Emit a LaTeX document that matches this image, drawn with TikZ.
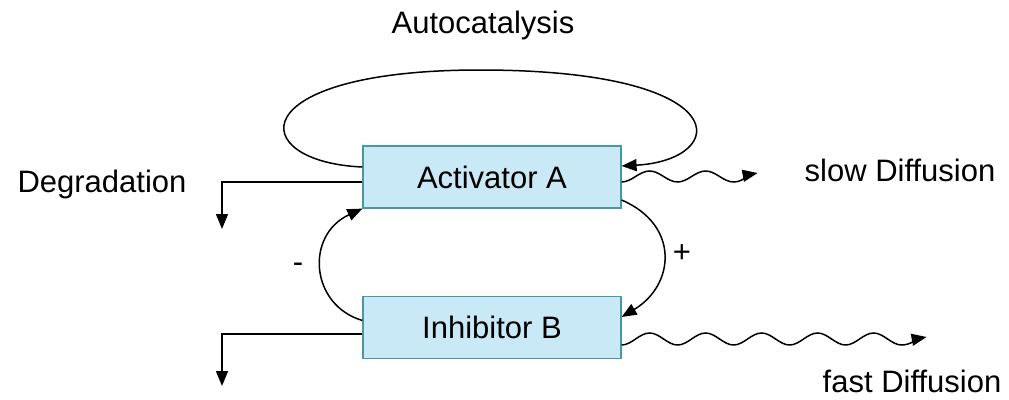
\documentclass[tikz,border=0pt]{standalone}
\usepackage{fontspec}
\setmainfont{Liberation Sans}
\usetikzlibrary{arrows.meta}
\definecolor{boxfill}{RGB}{202,233,247}
\definecolor{boxline}{RGB}{72,152,164}
\tikzset{
  species/.style={draw=boxline, fill=boxfill, line width=1.2pt, minimum width=258pt, minimum height=62pt, inner sep=0pt, font=\fontsize{31}{36}\selectfont},
  lbl/.style={font=\fontsize{31}{36}\selectfont, inner sep=0pt},
  conn/.style={line width=1.5pt, -{Triangle[length=15pt,width=12pt]}},
}
\begin{document}
\begin{tikzpicture}[x=1pt,y=-1pt]
\useasboundingbox (0,0) rectangle (1009,399);

\node[species] (A) at (492,177) {Activator A};
\node[species] (B) at (492,327.5) {Inhibitor B};

\node[lbl] (auto) at (483,25) {Autocatalysis};
\node[lbl] (deg) at (102,184) {Degradation};
\node[lbl] (slow) at (900,170) {slow Diffusion};
\node[lbl] (fast) at (912,381) {fast Diffusion};
\node[lbl] (minus) at (298,268) {-};
\node[lbl] (plus) at (682,254) {+};

\coordinate (dA) at (222,229);
\coordinate (dB) at (222,386);

% autocatalysis loop
\draw[conn] ([yshift=10pt]A.west) .. controls (245,162) and (240,70) .. (480,70)
  .. controls (740,70) and (730,160) .. ([yshift=11pt]A.east);

% degradation
\draw[conn] ([yshift=-5pt]A.west) -| (dA);
\draw[conn] ([yshift=-6.5pt]B.west) -| (dB);

% inhibition and activation
\draw[conn] ([yshift=7pt]B.west) .. controls (310,305) and (305,235) .. (A.south west);
\draw[conn] ([yshift=-23pt]A.east) .. controls (680,225) and (675,285) .. ([yshift=10.5pt]B.east);

% slow diffusion: two waves of 56pt
\draw[conn] ([yshift=-5pt]A.east)
  .. controls +(10.2,0) and +(-10.2,0) .. ++(28,-11)
  .. controls +(10.2,0) and +(-10.2,0) .. ++(28,11)
  .. controls +(10.2,0) and +(-10.2,0) .. ++(28,-11)
  .. controls +(10.2,0) and +(-10.2,0) .. ++(28,11)
  .. controls +(9,0) and +(-8,1.5) .. ++(24,-9);

% fast diffusion: five waves of 56pt
\draw[conn] ([yshift=-17.5pt]B.east)
  .. controls +(10.2,0) and +(-10.2,0) .. ++(28,-12)
  .. controls +(10.2,0) and +(-10.2,0) .. ++(28,12)
  .. controls +(10.2,0) and +(-10.2,0) .. ++(28,-12)
  .. controls +(10.2,0) and +(-10.2,0) .. ++(28,12)
  .. controls +(10.2,0) and +(-10.2,0) .. ++(28,-12)
  .. controls +(10.2,0) and +(-10.2,0) .. ++(28,12)
  .. controls +(10.2,0) and +(-10.2,0) .. ++(28,-12)
  .. controls +(10.2,0) and +(-10.2,0) .. ++(28,12)
  .. controls +(10.2,0) and +(-10.2,0) .. ++(28,-12)
  .. controls +(10.2,0) and +(-10.2,0) .. ++(28,12)
  .. controls +(9,0) and +(-8,1.5) .. ++(25,-8);
\end{tikzpicture}
\end{document}
